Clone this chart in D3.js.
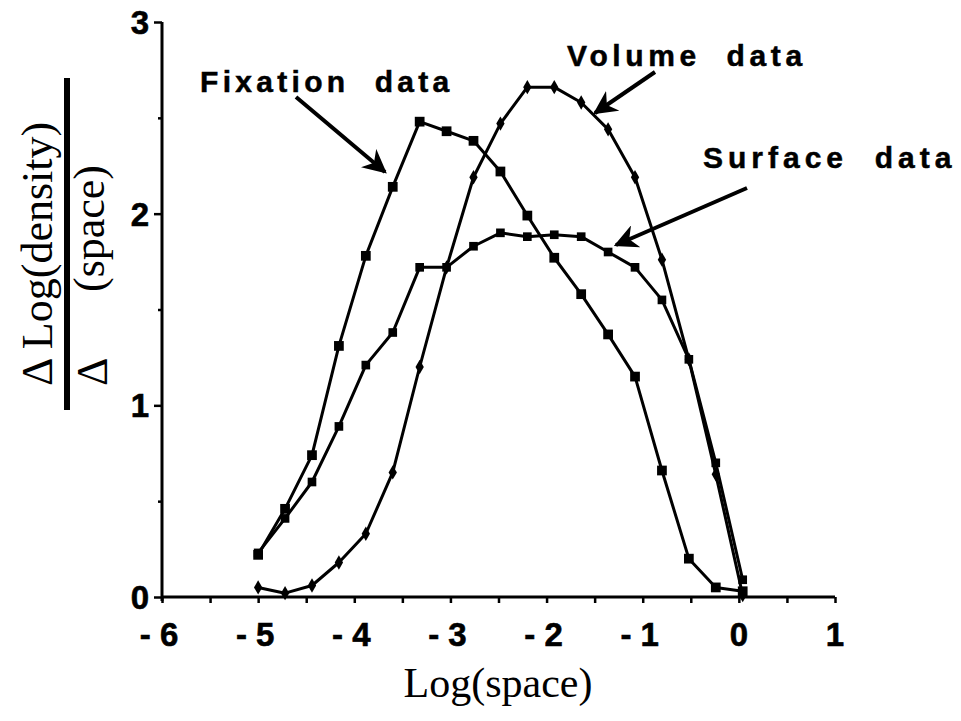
<!DOCTYPE html>
<html>
<head>
<meta charset="utf-8">
<script src="https://cdn.jsdelivr.net/npm/d3@7"></script>
<style>
  body { margin: 0; background: #fff; }
  svg text { white-space: pre; }
</style>
</head>
<body>
<div id="chart"></div>
<script>
// log(space) positions shared by all three series
const xs = [-5.0, -4.72, -4.44, -4.16, -3.88, -3.6, -3.32, -3.04, -2.76, -2.48,
            -2.2, -1.92, -1.64, -1.36, -1.08, -0.8, -0.52, -0.24, 0.04];

const fixation = [0.22, 0.46, 0.74, 1.31, 1.78, 2.14, 2.48, 2.43, 2.38, 2.22,
                  1.99, 1.77, 1.58, 1.37, 1.15, 0.66, 0.20, 0.05, 0.03];
const surface  = [0.23, 0.41, 0.60, 0.89, 1.21, 1.38, 1.72, 1.72, 1.83, 1.90,
                  1.88, 1.89, 1.88, 1.80, 1.72, 1.55, 1.24, 0.70, 0.09];
const volume   = [0.05, 0.02, 0.06, 0.18, 0.33, 0.65, 1.20, 1.72, 2.19, 2.47,
                  2.66, 2.66, 2.58, 2.44, 2.19, 1.76, 1.24, 0.64, 0.01];

const xTicks = [-6, -5, -4, -3, -2, -1, 0, 1];
const yTicks = [0, 1, 2, 3];

const svg = d3.select("#chart").append("svg")
    .attr("width", 961)
    .attr("height", 721);

const x = d3.scaleLinear().domain([-6, 1]).range([162, 835]);
const y = d3.scaleLinear().domain([0, 3]).range([597, 22]);

const boldFont = "'Liberation Sans', Arial, Helvetica, sans-serif";
const serifFont = "'Liberation Serif', 'Times New Roman', serif";

// x axis
const xAxis = svg.append("g").attr("transform", `translate(0,${y(0)})`);
xAxis.call(d3.axisBottom(x).tickValues(d3.range(-6, 1.01, 0.5))
    .tickSize(6).tickFormat(""));
xAxis.select(".domain").attr("stroke-width", 3).attr("d", `M${x(-6) - 1},0H${x(1)}`);
xAxis.selectAll(".tick line").attr("stroke-width", 2.5);

svg.selectAll(".xlab").data(xTicks).enter().append("text")
    .attr("x", d => x(d) + (d < 0 ? -3 : 0))
    .attr("y", 646)
    .attr("text-anchor", "middle")
    .attr("font-family", boldFont)
    .attr("font-weight", "bold")
    .attr("font-size", 33)
    .attr("stroke", "#000")
    .attr("stroke-width", 0.6)
    .text(d => d < 0 ? "- " + Math.abs(d) : d);

// y axis
const yAxis = svg.append("g").attr("transform", `translate(${x(-6)},0)`);
yAxis.call(d3.axisLeft(y).tickValues(d3.range(0, 3.01, 0.5)).tickSize(5).tickFormat(""));
yAxis.select(".domain").attr("stroke-width", 3).attr("d", `M0,${y(3)}V${y(0) + 4}`);
yAxis.selectAll(".tick line").attr("stroke-width", 2.5)
    .attr("x2", d => d % 1 === 0 ? -8 : -4);

svg.selectAll(".ylab").data(yTicks).enter().append("text")
    .attr("x", 149)
    .attr("y", d => y(d) + 12)
    .attr("text-anchor", "end")
    .attr("font-family", boldFont)
    .attr("font-weight", "bold")
    .attr("font-size", 33)
    .attr("stroke", "#000")
    .attr("stroke-width", 0.6)
    .text(d => d);

// series
const series = [
    { name: "fixation", values: fixation, shape: d3.symbolSquare, size: 95 },
    { name: "surface", values: surface, shape: d3.symbolSquare, size: 75 },
    { name: "volume", values: volume, shape: d3.symbolDiamond, size: 60 }
];

const line = d3.line().x((d, i) => x(xs[i])).y(d => y(d));

series.forEach(s => {
    svg.append("path")
        .datum(s.values)
        .attr("fill", "none")
        .attr("stroke", "#000")
        .attr("stroke-width", 3)
        .attr("stroke-linejoin", "round")
        .attr("d", line);
    svg.selectAll(".m-" + s.name).data(s.values).enter().append("path")
        .attr("transform", (d, i) => `translate(${x(xs[i])},${y(d)})`)
        .attr("d", d3.symbol().type(s.shape).size(s.size))
        .attr("fill", "#000");
});

// annotations
svg.append("defs").append("marker")
    .attr("id", "arrow")
    .attr("viewBox", "0 0 10 10")
    .attr("refX", 9).attr("refY", 5)
    .attr("markerWidth", 6).attr("markerHeight", 6)
    .attr("markerUnits", "strokeWidth")
    .attr("orient", "auto")
    .append("path")
    .attr("d", "M0,0L10,5L0,10L3,5Z")
    .attr("fill", "#000");

const notes = [
    { text: "Fixation  data", tx: 200, ty: 92, ls: 4.3, from: [296, 97], to: [385, 172] },
    { text: "Volume  data", tx: 567, ty: 66, ls: 4.6, from: [655, 72], to: [595, 113] },
    { text: "Surface  data", tx: 703, ty: 168, ls: 5.0, from: [747, 188], to: [616, 245] }
];

notes.forEach(n => {
    svg.append("text")
        .attr("x", n.tx).attr("y", n.ty)
        .attr("font-family", boldFont)
        .attr("font-weight", "bold")
        .attr("font-size", 30)
        .attr("letter-spacing", n.ls)
        .attr("stroke", "#000")
        .attr("stroke-width", 0.5)
        .text(n.text);
    svg.append("line")
        .attr("x1", n.from[0]).attr("y1", n.from[1])
        .attr("x2", n.to[0]).attr("y2", n.to[1])
        .attr("stroke", "#000")
        .attr("stroke-width", 4)
        .attr("marker-end", "url(#arrow)");
});

// axis titles
svg.append("text")
    .attr("x", 498).attr("y", 697)
    .attr("text-anchor", "middle")
    .attr("font-family", serifFont)
    .attr("font-size", 42)
    .text("Log(space)");

const yTitle = svg.append("g");
yTitle.append("text")
    .attr("transform", "translate(52,386) rotate(-90)")
    .attr("font-family", serifFont)
    .attr("font-size", 44)
    .text("Δ Log(density)");
yTitle.append("rect")
    .attr("x", 64).attr("y", 78)
    .attr("width", 6).attr("height", 332)
    .attr("fill", "#000");
yTitle.append("text")
    .attr("transform", "translate(107,386) rotate(-90)")
    .attr("font-family", serifFont)
    .attr("font-size", 44)
    .text("Δ");
yTitle.append("text")
    .attr("transform", "translate(104,292) rotate(-90)")
    .attr("font-family", serifFont)
    .attr("font-size", 44)
    .text("(space)");
</script>
</body>
</html>
